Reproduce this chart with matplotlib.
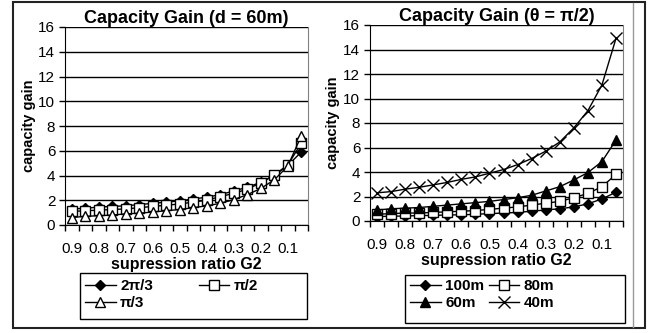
import numpy as np
import matplotlib
matplotlib.use("Agg")
import matplotlib.pyplot as plt
from matplotlib.patches import Rectangle
from matplotlib.lines import Line2D

plt.rcParams['font.family'] = ['Liberation Sans', 'DejaVu Sans']

categories = ["0.9", "0.85", "0.8", "0.75", "0.7", "0.65", "0.6", "0.55", "0.5",
              "0.45", "0.4", "0.35", "0.3", "0.25", "0.2", "0.15", "0.1", "0.05"]
tick_labels = ["0.9", "0.8", "0.7", "0.6", "0.5", "0.4", "0.3", "0.2", "0.1"]

# Left chart: d = 60m, different angles
theta_2pi3 = [1.3, 1.35, 1.45, 1.5, 1.55, 1.65, 1.75, 1.85, 1.95, 2.1, 2.25, 2.45, 2.75, 3.05, 3.45, 4.0, 4.8, 5.9]
theta_pi2 = [1.1, 1.15, 1.2, 1.25, 1.3, 1.4, 1.5, 1.6, 1.7, 1.85, 2.0, 2.3, 2.55, 2.9, 3.4, 4.05, 4.85, 6.6]
theta_pi3 = [0.6, 0.7, 0.75, 0.8, 0.9, 0.95, 1.05, 1.15, 1.25, 1.4, 1.55, 1.75, 2.05, 2.45, 2.95, 3.65, 4.75, 7.2]

# Right chart: theta = pi/2, different distances
d100 = [0.35, 0.4, 0.4, 0.45, 0.45, 0.5, 0.5, 0.55, 0.6, 0.65, 0.7, 0.8, 0.9, 1.0, 1.15, 1.4, 1.8, 2.35]
d80 = [0.55, 0.6, 0.65, 0.65, 0.7, 0.75, 0.8, 0.85, 0.95, 1.05, 1.15, 1.3, 1.45, 1.6, 1.9, 2.25, 2.8, 3.8]
d60 = [0.9, 1.0, 1.05, 1.1, 1.2, 1.3, 1.4, 1.5, 1.6, 1.75, 1.9, 2.1, 2.45, 2.8, 3.35, 3.95, 4.85, 6.6]
d40 = [2.3, 2.4, 2.6, 2.75, 2.95, 3.15, 3.4, 3.6, 3.9, 4.2, 4.6, 5.1, 5.7, 6.45, 7.6, 9.0, 11.1, 14.9]

W, H = 649, 333
fig = plt.figure(figsize=(W / 100, H / 100), dpi=100)

def fx(px):
    return px / W

def fy(py):
    return 1 - py / H

def frame(x0, y0, x1, y1, color, lw):
    fig.patches.append(Rectangle((fx(x0), fy(y1)), fx(x1) - fx(x0), fy(y0) - fy(y1),
                                 transform=fig.transFigure, fill=False, edgecolor=color, lw=lw))

# Outer frame
frame(13, 2, 645, 328, '#222222', 1.5)
fig.lines.append(Line2D([fx(633), fx(633)], [fy(3), fy(327)], transform=fig.transFigure,
                        color='#999999', lw=1.0))
# Legend boxes
frame(80, 273, 307, 319, 'black', 1.0)
frame(405, 275, 625, 323, 'black', 1.0)

def make_axes(rect):
    left, top, right, bottom = rect
    ax = fig.add_axes([fx(left), fy(bottom), fx(right) - fx(left), fy(top) - fy(bottom)])
    n = len(categories)
    ax.set_xlim(-0.5, n - 0.5)
    ax.set_ylim(0, 16)
    ax.set_yticks(np.arange(0, 17, 2))
    ax.yaxis.grid(True, color='black', lw=1.0)
    ax.set_axisbelow(True)
    label_pos = [categories.index(t) for t in tick_labels]
    ax.set_xticks(label_pos)
    ax.set_xticklabels(tick_labels, fontsize=11)
    ax.tick_params(axis='x', which='major', length=0, pad=12)
    ax.set_xticks(np.arange(-0.5, n, 1), minor=True)
    ax.tick_params(axis='x', which='minor', length=4, direction='out', width=1)
    ax.tick_params(axis='y', length=4, direction='out', width=1, labelsize=11, pad=3)
    ax.spines['top'].set_visible(False)
    ax.spines['right'].set_color('#808080')
    ax.spines['left'].set_color('black')
    ax.spines['bottom'].set_color('black')
    ax.set_xlabel("supression ratio G2", fontsize=11.5, fontweight='bold', labelpad=1)
    ax.set_ylabel("capacity gain", fontsize=10.5, fontweight='bold', labelpad=2)
    return ax

x = np.arange(len(categories))
leg_kw = dict(ncol=2, loc='upper left', frameon=False, prop={'weight': 'bold', 'size': 11},
              handlelength=2.0, borderpad=0.0, labelspacing=0.22, handletextpad=0.3,
              bbox_transform=fig.transFigure, borderaxespad=0.0)

ax1 = make_axes((65, 27, 308, 225))
l1, = ax1.plot(x, theta_2pi3, color='black', lw=1, marker='D', ms=5, mfc='black', mec='black', label='2π/3')
l2, = ax1.plot(x, theta_pi2, color='black', lw=1, marker='s', ms=6.5, mfc='white', mec='black', label='π/2')
l3, = ax1.plot(x, theta_pi3, color='black', lw=1, marker='^', ms=7, mfc='white', mec='black', label='π/3')
ax1.set_title("Capacity Gain (d = 60m)", fontsize=13, fontweight='bold', pad=3)
ax1.legend(handles=[l1, l3, l2], bbox_to_anchor=(fx(85), fy(279)), columnspacing=3.0, **leg_kw)

ax2 = make_axes((370, 25, 623, 221))
r1, = ax2.plot(x, d100, color='black', lw=1, marker='D', ms=5, mfc='black', mec='black', label='100m')
r2, = ax2.plot(x, d80, color='black', lw=1, marker='s', ms=6.5, mfc='white', mec='black', label='80m')
r3, = ax2.plot(x, d60, color='black', lw=1, marker='^', ms=7, mfc='black', mec='black', label='60m')
r4, = ax2.plot(x, d40, color='black', lw=1, marker='x', ms=9, mew=1, mec='black', label='40m')
ax2.set_title("Capacity Gain (θ = π/2)", fontsize=13, fontweight='bold', pad=3)
ax2.legend(handles=[r1, r3, r2, r4], bbox_to_anchor=(fx(410), fy(279)), columnspacing=0.3, **leg_kw)

fig.savefig("out.png", dpi=100)
